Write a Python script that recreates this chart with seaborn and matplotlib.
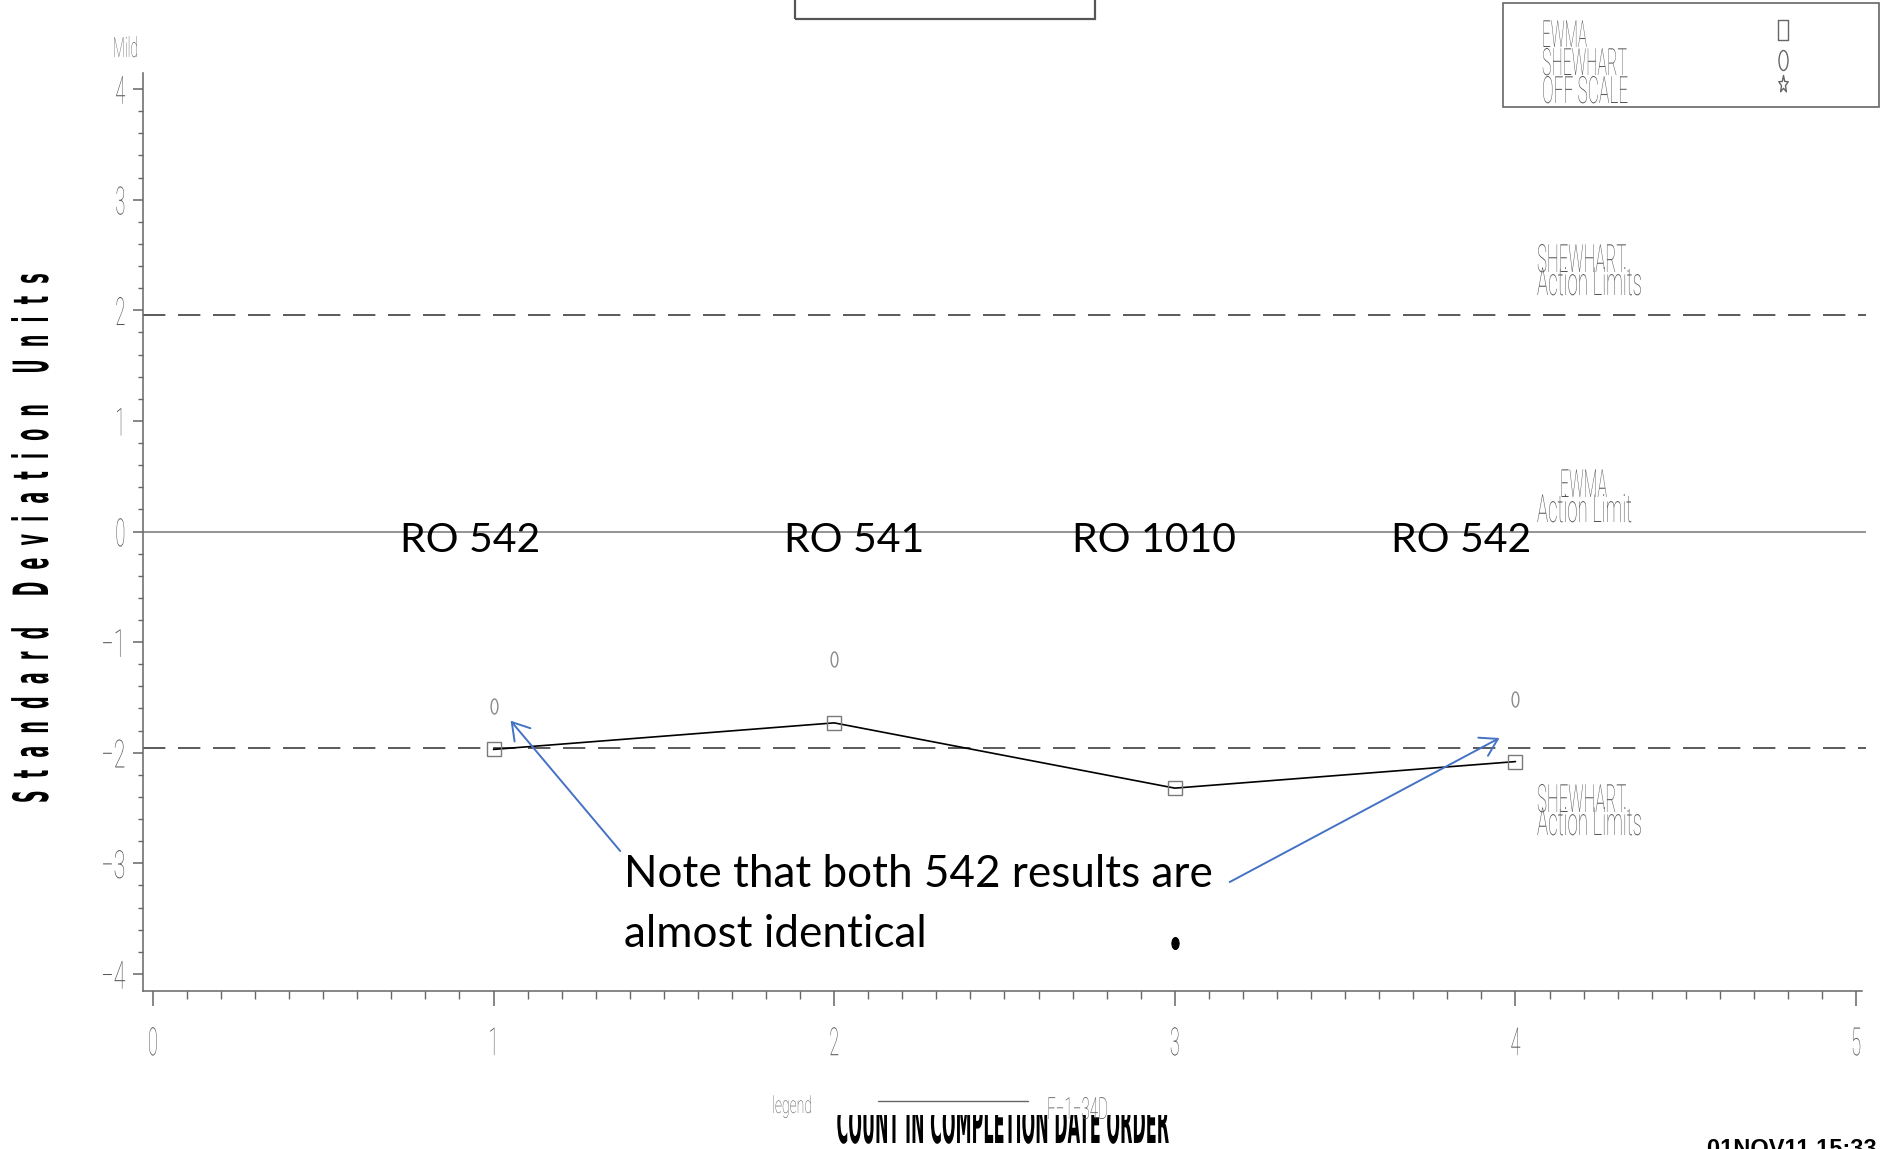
import numpy as np
import matplotlib
matplotlib.use("Agg")
import matplotlib.pyplot as plt
import seaborn as sns
from matplotlib.path import Path
from matplotlib.patches import Rectangle
from matplotlib.lines import Line2D
from matplotlib.patheffects import AbstractPathEffect
from matplotlib.transforms import Affine2D
from matplotlib.ticker import MultipleLocator

# ---------------------------------------------------------------- data
count_order = [1, 2, 3, 4]
ewma_values = [-1.97, -1.73, -2.32, -2.08]
shewhart_values = [-1.58, -1.15, -3.72, -1.51]
shewhart_flagged = [False, False, True, False]
run_labels = ["RO 542", "RO 541", "RO 1010", "RO 542"]
action_limit = 1.96
y_ticks = [-4, -3, -2, -1, 0, 1, 2, 3, 4]
x_ticks = [0, 1, 2, 3, 4, 5]
legend_entries = ["EWMA", "SHEWHART", "OFF SCALE"]
note_text = "Note that both 542 results are\nalmost identical"

# ---------------------------------------------------------------- style
sns.set_theme(style="white")
plt.rcParams["font.family"] = ["DejaVu Sans"]
THIN = ["Roboto", "DejaVu Sans"]
CALLOUT = ["Lato", "DejaVu Sans"]
GRAY = "#555555"
AXIS_GRAY = "#666666"
ARROW_BLUE = "#4472C4"

W, H = 1881, 1149
fig = plt.figure(figsize=(W / 100, H / 100), dpi=100)
fig.patch.set_facecolor("white")


def fx(px):
    return px / W


def fy(py):
    return 1 - py / H


class Squeeze(AbstractPathEffect):
    """Rescale glyphs along / across the text baseline, about the text anchor."""

    def __init__(self, text, along, across=1.0):
        super().__init__()
        self.text = text
        self.along = along
        self.across = across

    def draw_path(self, renderer, gc, tpath, affine, rgbFace=None):
        t = self.text
        ax_, ay_ = t.get_transform().transform(t.get_unitless_position())
        ang = np.deg2rad(t.get_rotation())
        sq = (Affine2D().translate(-ax_, -ay_).rotate(-ang)
              .scale(self.along, self.across).rotate(ang).translate(ax_, ay_))
        renderer.draw_path(gc, tpath, affine + sq, rgbFace)


squeezed = []


def squeeze(text, width_px, across=1.0):
    squeezed.append((text, width_px, across))
    return text


def apply_squeeze():
    fig.canvas.draw()
    r = fig.canvas.get_renderer()
    for t, w, across in squeezed:
        bb = t.get_window_extent(r)
        vertical = abs((t.get_rotation() % 180) - 90) < 1
        natural = bb.height if vertical else bb.width
        if natural > 0:
            t.set_path_effects([Squeeze(t, w / natural, across)])


def thin_text(x, y, s, size, width, ha="left", zorder=3):
    t = fig.text(fx(x), fy(y), s, ha=ha, va="baseline", fontsize=size,
                 color=GRAY, family=THIN, fontweight="light", zorder=zorder)
    return squeeze(t, width)


# marker shapes
ellipse_marker = Path.unit_circle().transformed(Affine2D().scale(0.45, 1.0))
dot_marker = Path.unit_circle().transformed(Affine2D().scale(0.6, 1.0))
tall_box_marker = Path([(-0.26, -0.5), (0.26, -0.5), (0.26, 0.5), (-0.26, 0.5), (-0.26, -0.5)],
                       [Path.MOVETO, Path.LINETO, Path.LINETO, Path.LINETO, Path.CLOSEPOLY])
ang = np.pi / 2 + np.arange(10) * np.pi / 5
rad = np.where(np.arange(10) % 2 == 0, 1.0, 0.42)
star_pts = np.c_[0.55 * rad * np.cos(ang), rad * np.sin(ang)]
star_marker = Path(np.vstack([star_pts, star_pts[:1]]),
                   [Path.MOVETO] + [Path.LINETO] * 9 + [Path.CLOSEPOLY])

# ---------------------------------------------------------------- axes
ax = fig.add_axes([fx(143), 1 - 991 / H, (1866 - 143) / W, (991 - 73) / H])
ax.set_xlim(-0.029, 5.029)
ax.set_ylim(-4.154, 4.145)
for side in ("top", "right"):
    ax.spines[side].set_visible(False)
for side in ("left", "bottom"):
    ax.spines[side].set_color(AXIS_GRAY)
    ax.spines[side].set_linewidth(1.1)
ax.spines["bottom"].set_bounds(-0.029, 5.018)

ax.set_yticks(y_ticks, labels=[f"{v}".replace("-", "\u2212") for v in y_ticks])
ax.set_xticks(x_ticks, labels=[str(v) for v in x_ticks])
ax.yaxis.set_minor_locator(MultipleLocator(0.2))
ax.xaxis.set_minor_locator(MultipleLocator(0.1))
ax.tick_params(axis="y", which="major", direction="out", length=7.2, width=1.1,
               color=AXIS_GRAY, labelsize=28, labelcolor=GRAY, pad=5.5, left=True)
ax.tick_params(axis="y", which="minor", direction="out", length=3.6, width=1.0,
               color=AXIS_GRAY, left=True)
ax.tick_params(axis="x", which="major", direction="out", length=11, width=1.1,
               color=AXIS_GRAY, labelsize=28, labelcolor=GRAY, pad=14, bottom=True)
ax.tick_params(axis="x", which="minor", direction="out", length=5.5, width=1.0,
               color=AXIS_GRAY, bottom=True)
for lbl in ax.get_xticklabels() + ax.get_yticklabels():
    lbl.set_family(THIN)
    lbl.set_fontweight("light")

# reference lines
ax.axhline(0, color="#777777", lw=1.1, zorder=1)
for lim in (action_limit, -action_limit):
    ax.axhline(lim, color="#5a5a5a", lw=1.4, dashes=(11.5, 6.5), zorder=1)

# EWMA series
sns.lineplot(x=count_order, y=ewma_values, ax=ax, color="black", linewidth=1.2,
             marker="s", markersize=10, markerfacecolor="none",
             markeredgecolor="#7a7a7a", markeredgewidth=1.0, zorder=3)

# Shewhart values
reg_x = [x for x, f in zip(count_order, shewhart_flagged) if not f]
reg_y = [y for y, f in zip(shewhart_values, shewhart_flagged) if not f]
flag_x = [x for x, f in zip(count_order, shewhart_flagged) if f]
flag_y = [y for y, f in zip(shewhart_values, shewhart_flagged) if f]
sns.lineplot(x=reg_x, y=reg_y, ax=ax, linestyle="none", marker=ellipse_marker,
             markersize=10.8, markerfacecolor="none", markeredgecolor="#8a8a8a",
             markeredgewidth=1.0, zorder=3)
sns.lineplot(x=flag_x, y=flag_y, ax=ax, linestyle="none", marker=dot_marker,
             markersize=8.6, markerfacecolor="black", markeredgecolor="black",
             markeredgewidth=0.8, zorder=3)

# run labels and note
run_label_x = [0.93, 2.06, 2.94, 3.84]
for lx, lab in zip(run_label_x, run_labels):
    ax.text(lx, -0.085, lab, ha="center", va="center", fontsize=29.5,
            family=CALLOUT, color="black", zorder=4)
ax.text(1.384, -3.375, note_text, ha="left", va="center", fontsize=31.7,
        family=CALLOUT, color="black", linespacing=1.58, zorder=4)
arrow_kw = dict(arrowstyle="->,head_length=0.6,head_width=0.37", color=ARROW_BLUE,
                lw=1.4, shrinkA=0, shrinkB=0, mutation_scale=20)
ax.annotate("", xy=(1.05, -1.71), xytext=(1.372, -2.889), arrowprops=arrow_kw)
ax.annotate("", xy=(3.953, -1.867), xytext=(3.161, -3.169), arrowprops=arrow_kw)

for lbl in ax.get_xticklabels():
    squeeze(lbl, 10)
for lbl in ax.get_yticklabels():
    squeeze(lbl, 24 if lbl.get_text().startswith("\u2212") else 10)

# ---------------------------------------------------------------- figure furniture
thin_text(113, 57, "Mild", 20, 25)

# limit captions on the right
thin_text(1537, 272, "SHEWHART.", 28, 93)
thin_text(1537, 295, "Action Limits", 28, 105)
thin_text(1560, 497, "EWMA", 28, 47)
thin_text(1537, 522, "Action Limit", 28, 95)
thin_text(1537, 812, "SHEWHART.", 28, 93)
thin_text(1537, 835, "Action Limits", 28, 105)

# symbol key, top right
fig.add_artist(Rectangle((fx(1503), fy(107)), 376 / W, 104 / H, transform=fig.transFigure,
                         fc="none", ec=AXIS_GRAY, lw=1.2, zorder=2))
for (name, base, w_px) in zip(legend_entries, [47, 75, 103], [45, 85, 86]):
    thin_text(1542, base, name, 27, w_px)
key_markers = [(30, tall_box_marker, 13.7), (60, ellipse_marker, 14.4), (84, star_marker, 13.0)]
for ypx, mk, ms in key_markers:
    fig.add_artist(Line2D([fx(1783)], [fy(ypx)], transform=fig.transFigure, marker=mk,
                          markersize=ms, markerfacecolor="none", markeredgecolor="#666666",
                          markeredgewidth=1.0, linestyle="none", zorder=3))

# empty title box at the top
fig.add_artist(Rectangle((fx(795), fy(19)), 300 / W, 30 / H, transform=fig.transFigure,
                         fc="none", ec="#555555", lw=1.6, zorder=2))

# axis titles
ylab = fig.text(fx(34), fy(538),
                "S  t  a  n  d  a  r  d     D  e  v  i  a  t  i  o  n     U  n  i  t  s",
                rotation=90, ha="center", va="center", fontsize=17.5, fontweight="bold",
                color="black", family=["DejaVu Sans"])
squeeze(ylab, 530, across=2.0)
xlab = fig.text(fx(1003), fy(1143), "COUNT IN COMPLETION DATE ORDER", ha="center",
                va="baseline", fontsize=41, fontweight="bold", color="black",
                family=["DejaVu Sans"], zorder=3)
squeeze(xlab, 333)
fig.add_artist(Rectangle((fx(825), fy(1115)), 370 / W, 34 / H, transform=fig.transFigure,
                         fc="white", ec="none", zorder=3.5))

# footer legend line
thin_text(772, 1113, "legend", 17, 40, zorder=4)
fig.add_artist(Line2D([fx(878), fx(1028)], [fy(1101), fy(1101)], transform=fig.transFigure,
                      color="#666666", lw=1.0, zorder=4))
thin_text(1047, 1119, "F\u22121\u221234D", 22, 61, zorder=4)

# run stamp, bottom right
fig.text(fx(1707), fy(1156), "01NOV11 15:33", ha="left", va="baseline", fontsize=17,
         fontweight="bold", color="black", family=["Liberation Sans", "DejaVu Sans"])

apply_squeeze()
fig.savefig("out.png", dpi=100, facecolor="white")
